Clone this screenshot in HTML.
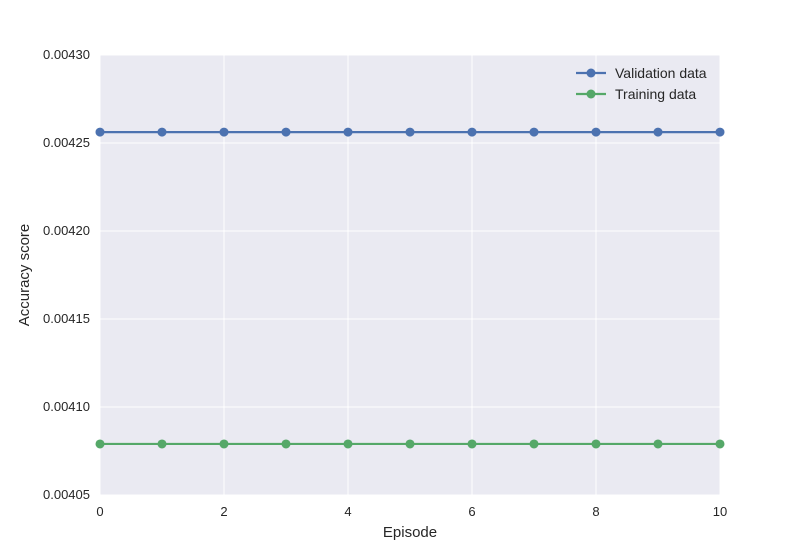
<!DOCTYPE html>
<html><head><meta charset="utf-8"><style>body{margin:0;background:#fff;}svg{display:block;font-family:"Liberation Sans",sans-serif;}</style></head>
<body>
<svg id="chart" width="800" height="550"></svg>
<script>
const episodes=[0,1,2,3,4,5,6,7,8,9,10];
const validation=[0.0042562,0.0042562,0.0042562,0.0042562,0.0042562,0.0042562,0.0042562,0.0042562,0.0042562,0.0042562,0.0042562];
const training=[0.0040790,0.0040790,0.0040790,0.0040790,0.0040790,0.0040790,0.0040790,0.0040790,0.0040790,0.0040790,0.0040790];
const xTicks=[0,2,4,6,8,10];
const yTicks=[0.00405,0.00410,0.00415,0.00420,0.00425,0.00430];
const L=100,R=720,T=55,B=495;
const xs=v=>L+(v-0)/(10-0)*(R-L);
const ys=v=>B-(v-0.00405)/(0.00430-0.00405)*(B-T);
const svg=document.getElementById('chart');
const NS='http://www.w3.org/2000/svg';
function mk(t,a,p){const e=document.createElementNS(NS,t);for(const k in a)e.setAttribute(k,a[k]);(p||svg).appendChild(e);return e;}
const bg=mk('rect',{x:L,y:T,width:R-L,height:B-T,fill:'#EAEAF2'});


xTicks.forEach(v=>{
  const g=mk('line',{x1:xs(v),x2:xs(v),y1:T,y2:B,stroke:'#fff','stroke-width':1});
  
  
  const t=mk('text',{x:xs(v),y:516,'text-anchor':'middle','font-size':13,fill:'#262626'});
  t.textContent=v;
  
  
});
yTicks.forEach(v=>{
  const g=mk('line',{x1:L,x2:R,y1:ys(v),y2:ys(v),stroke:'#fff','stroke-width':1});
  
  
  const t=mk('text',{x:90,y:ys(v)+4,'text-anchor':'end','font-size':13,fill:'#262626'});
  t.textContent=v.toFixed(5);
  
  
});
function series(data,color,name){
  const pts=data.map((v,i)=>xs(episodes[i])+','+ys(v)).join(' ');
  const pl=mk('polyline',{points:pts,fill:'none',stroke:color,'stroke-width':2.2});
  
  
  data.forEach((v,i)=>{
    const c=mk('circle',{cx:xs(episodes[i]),cy:ys(v),r:4.5,fill:color});
    
    
  });
}
series(validation,'#4C72B0','validation');
series(training,'#55A868','training');
[['Validation data','#4C72B0',73],['Training data','#55A868',94]].forEach(([lab,col,y])=>{
  const l=mk('line',{x1:576,x2:606,y1:y,y2:y,stroke:col,'stroke-width':2.2});
  
  
  const c=mk('circle',{cx:591,cy:y,r:4.5,fill:col});
  
  
  const t=mk('text',{x:615,y:y+5,'font-size':14,fill:'#262626'});
  t.textContent=lab;
  
  
});
const xt=mk('text',{x:410,y:537,'text-anchor':'middle','font-size':15,fill:'#262626'});
xt.textContent='Episode';


const yt=mk('text',{x:29,y:275,'text-anchor':'middle','font-size':15,fill:'#262626',transform:'rotate(-90 29 275)'});
yt.textContent='Accuracy score';


</script>
</body></html>
